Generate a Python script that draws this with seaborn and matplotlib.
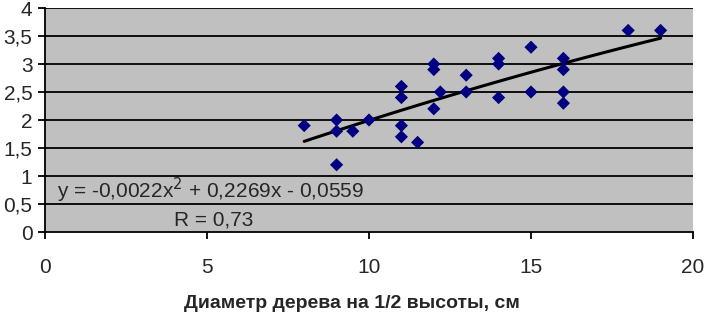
import numpy as np
import matplotlib
matplotlib.use("Agg")
import matplotlib.pyplot as plt
import pandas as pd
import seaborn as sns

# diameter at 1/2 height (cm) vs value
diam = [8, 9, 9, 9, 9.5, 10, 11, 11, 11, 11, 11.5, 12, 12, 12, 12.2, 13, 13,
        14, 14, 14, 15, 15, 16, 16, 16, 16, 18, 19]
vals = [1.9, 2.0, 1.8, 1.2, 1.8, 2.0, 2.6, 2.4, 1.9, 1.7, 1.6, 3.0, 2.9, 2.2, 2.5, 2.8, 2.5,
        3.1, 3.0, 2.4, 3.3, 2.5, 3.1, 2.9, 2.5, 2.3, 3.6, 3.6]
trend_coef = [-0.0022, 0.2269, -0.0559]
eq_text = "y = -0,0022x$^2$ + 0,2269x - 0,0559"
r_text = "R = 0,73"
xticks = [0, 5, 10, 15, 20]
yticks = [0, 0.5, 1, 1.5, 2, 2.5, 3, 3.5, 4]

df = pd.DataFrame({"d": diam, "v": vals})

sns.set_style("ticks")
plt.rcParams['font.family'] = ['Liberation Sans', 'DejaVu Sans']

fig = plt.figure(figsize=(7.04, 3.13), dpi=100)
ax = fig.add_axes([45/704, 1 - 232/313, (693 - 45)/704, (232 - 8)/313])
ax.set_facecolor("#c0c0c0")

for y in yticks[1:]:
    ax.axhline(y, color="black", lw=1.3, zorder=1)

xs = np.linspace(min(diam), max(diam), 100)
ax.plot(xs, np.polyval(trend_coef, xs), color="black", lw=2.2, zorder=2)

sns.scatterplot(data=df, x="d", y="v", marker="D", color="#000080", s=45,
                edgecolor="none", ax=ax, zorder=3)

ax.text(0.37, 0.75, eq_text, fontsize=15, va="center", ha="left")
ax.text(5.2, 0.21, r_text, fontsize=15, va="center", ha="center")

ax.set_xlim(0, 20)
ax.set_ylim(0, 4)
ax.set_xticks(xticks)
ax.set_yticks(yticks)
ax.set_xticklabels([str(t) for t in xticks])
ax.set_yticklabels([f"{t:g}".replace(".", ",") for t in yticks])
ax.tick_params(labelsize=15, length=5, width=1.3, color="black", pad=14)
ax.tick_params(axis="y", pad=4)
for s in ["top", "right"]:
    ax.spines[s].set_visible(False)
for s in ["left", "bottom"]:
    ax.spines[s].set_color("black")
    ax.spines[s].set_linewidth(1.3)
ax.set_xlabel("Диаметр дерева на 1/2 высоты, см", fontsize=14, fontweight="bold", labelpad=14)
ax.xaxis.set_label_coords(0.474, -0.28)
ax.set_ylabel("")

fig.savefig("out.png", dpi=100)
